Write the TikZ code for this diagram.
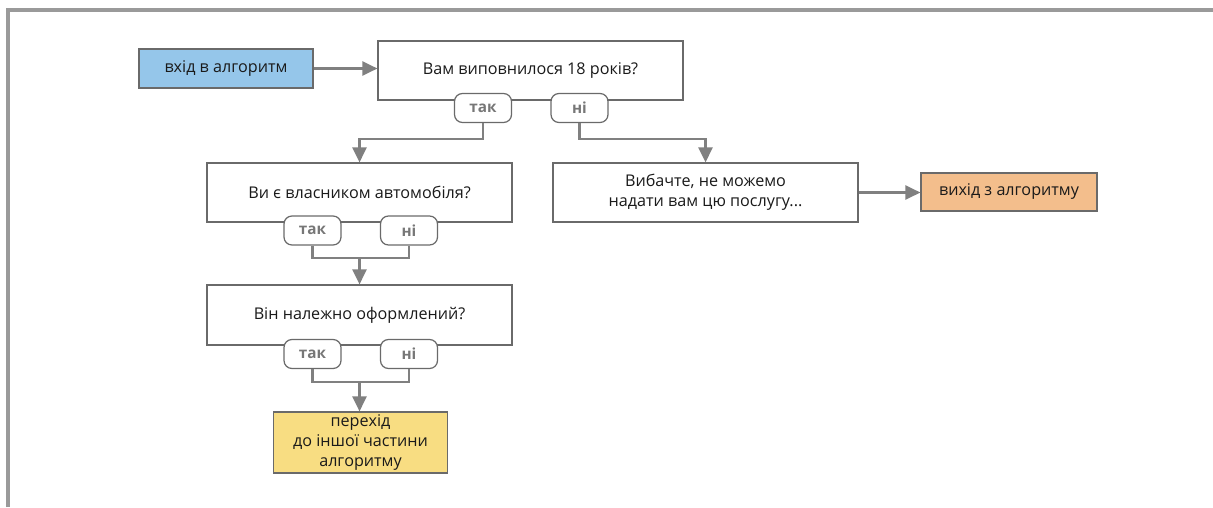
\documentclass[tikz,border=0pt]{standalone}
\usepackage{fontspec}
\setmainfont{Open Sans}
\usetikzlibrary{arrows.meta,calc}
\definecolor{framegray}{HTML}{9A9A9A}
\definecolor{linegray}{HTML}{808080}
\definecolor{boxedge}{HTML}{6A6A6A}
\definecolor{bluefill}{HTML}{95C6EA}
\definecolor{yellowfill}{HTML}{F8DD82}
\definecolor{peachfill}{HTML}{F3BE8C}
\definecolor{pilltext}{HTML}{777777}
\definecolor{txt}{HTML}{1A1A1A}
\begin{document}
\begin{tikzpicture}[x=0.02cm,y=-0.02cm,
  box/.style={draw=boxedge,line width=0.7pt,fill=white,text=txt,align=center,
    inner sep=0pt,font=\fontsize{9.2}{11.5}\selectfont},
  pill/.style={draw=boxedge,line width=0.7pt,fill=white,rounded corners=4.5pt,
    minimum width=57*0.02cm,minimum height=29*0.02cm,inner sep=0pt,
    text=pilltext,font=\fontsize{8.7}{10}\selectfont\bfseries},
  conn/.style={draw=linegray,line width=1.35pt},
  arr/.style={conn,-{Triangle[length=8.5pt,width=8pt]}}]
\useasboundingbox (0,0) rectangle (1213,507);
% frame
\draw[framegray,line width=1.8pt] (8,507) -- (8,10) -- (1213,10);
% nodes
\node[box,fill=bluefill,minimum width=174*0.02cm,minimum height=39*0.02cm] (entry) at (226,68.5) {вхід в алгоритм};
\node[box,minimum width=305*0.02cm,minimum height=59*0.02cm] (q1) at (530.5,70.5) {Вам виповнилося 18 років?};
\node[pill] (q1y) at (483,108) {так};
\node[pill] (q1n) at (579.5,108) {ні};
\node[box,minimum width=305*0.02cm,minimum height=59*0.02cm] (q2) at (359.5,192.5) {Ви є власником автомобіля?};
\node[box,minimum width=305*0.02cm,minimum height=59*0.02cm] (sorry) at (705.5,192.5) {Вибачте, не можемо\\надати вам цю послугу...};
\node[box,fill=peachfill,minimum width=176*0.02cm,minimum height=38*0.02cm] (exit) at (1009,192) {вихід з алгоритму};
\node[pill] (q2y) at (312.5,230.5) {так};
\node[pill] (q2n) at (409,230.5) {ні};
\node[box,minimum width=305*0.02cm,minimum height=60*0.02cm] (q3) at (359.5,315) {Він належно оформлений?};
\node[pill] (q3y) at (312.5,354) {так};
\node[pill] (q3n) at (409,354) {ні};
\node[box,fill=yellowfill,minimum width=174*0.02cm,minimum height=61*0.02cm] (next) at (360.5,442.5) {перехід\\до іншої частини\\алгоритму};
% junction coordinates
\coordinate (j1) at (359.5,139);
\coordinate (j2) at (705.5,139);
\coordinate (j3) at (359.5,258);
\coordinate (j4) at (359.5,382);
% connectors
\draw[arr] (entry.east) -- (entry.east -| q1.west);
\draw[arr] (q1y.south) |- (j1) -- (q2.north);
\draw[arr] (q1n.south) |- (j2) -- (sorry.north);
\draw[arr] (sorry.east) -- (sorry.east -| exit.west);
\draw[conn] (q2y.south) |- (j3) -| (q2n.south);
\draw[arr] (j3) -- (q3.north);
\draw[conn] (q3y.south) |- (j4) -| (q3n.south);
\draw[arr] (j4) -- (j4 |- next.north);
\end{tikzpicture}
\end{document}
